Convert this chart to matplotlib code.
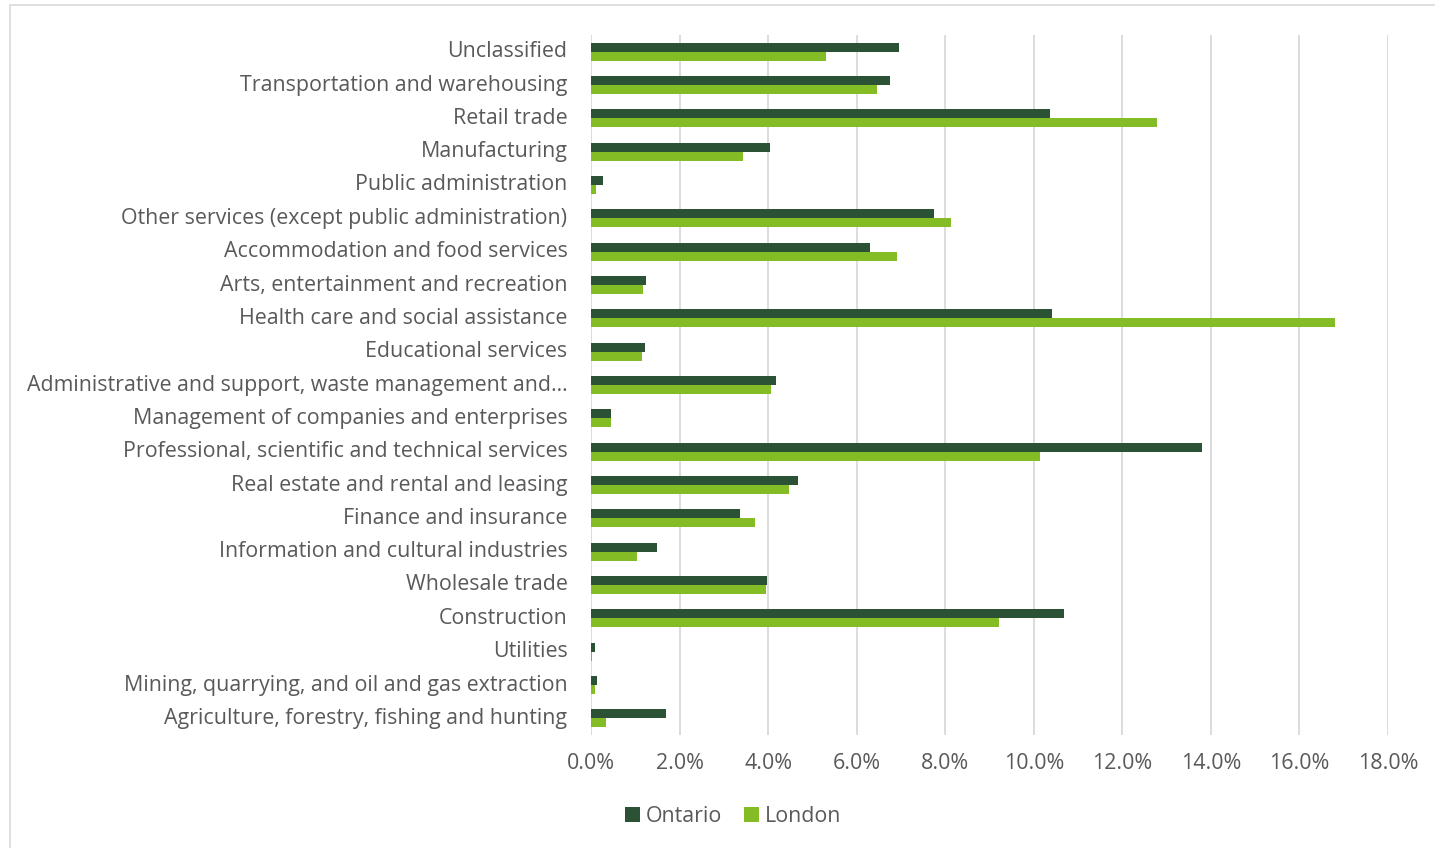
import numpy as np
import matplotlib.pyplot as plt
from matplotlib.ticker import FuncFormatter

# industries listed bottom to top as they appear on the y axis
industries = [
    "Agriculture, forestry, fishing and hunting",
    "Mining, quarrying, and oil and gas extraction",
    "Utilities",
    "Construction",
    "Wholesale trade",
    "Information and cultural industries",
    "Finance and insurance",
    "Real estate and rental and leasing",
    "Professional, scientific and technical services",
    "Management of companies and enterprises",
    "Administrative and support, waste management and\u2026",
    "Educational services",
    "Health care and social assistance",
    "Arts, entertainment and recreation",
    "Accommodation and food services",
    "Other services (except public administration)",
    "Public administration",
    "Manufacturing",
    "Retail trade",
    "Transportation and warehousing",
    "Unclassified",
]

# share of businesses, in percent
ontario = [1.69, 0.13, 0.08, 10.69, 3.98, 1.50, 3.36, 4.67, 13.79, 0.45, 4.18,
           1.21, 10.41, 1.25, 6.29, 7.74, 0.28, 4.04, 10.36, 6.76, 6.96]
london = [0.34, 0.08, 0.02, 9.22, 3.96, 1.05, 3.71, 4.47, 10.15, 0.45, 4.07,
          1.15, 16.81, 1.17, 6.92, 8.14, 0.11, 3.44, 12.79, 6.47, 5.31]

dark_green = "#2B5234"
light_green = "#84BC26"
text_grey = "#595959"

plt.rcParams['font.family'] = ['Open Sans', 'DejaVu Sans']

fig = plt.figure(figsize=(14.35, 8.48), dpi=100)
ax = fig.add_axes([591 / 1435, 1 - 735 / 848, (1388 - 591) / 1435, 700 / 848])

y = np.arange(len(industries))
h = 0.27
ax.barh(y + h / 2, ontario, height=h, color=dark_green, label="Ontario", zorder=3)
ax.barh(y - h / 2, london, height=h, color=light_green, label="London", zorder=3)

ax.set_xlim(0, 18)
ax.set_ylim(-0.5, len(industries) - 0.5)
ax.set_xticks(np.arange(0, 18.1, 2))
ax.xaxis.set_major_formatter(FuncFormatter(lambda v, _: f"{v:.1f}%"))
ax.set_yticks(y)
ax.set_yticklabels(industries, va='center')
for lbl in ax.get_yticklabels():
    lbl.set_y(lbl.get_position()[1])

ax.grid(axis='x', color="#D9D9D9", linewidth=1.3, zorder=0)
for s in ax.spines.values():
    s.set_visible(False)
ax.tick_params(axis='y', length=0, pad=17, labelsize=15.4, labelcolor=text_grey)
ax.tick_params(axis='x', length=0, pad=13, labelsize=15.4, labelcolor=text_grey)

leg = fig.legend(loc='center', bbox_to_anchor=(733 / 1435, 1 - 816 / 848), ncol=2,
                 frameon=False, fontsize=15.4, handlelength=0.7, handleheight=0.7,
                 handletextpad=0.3, columnspacing=1.0)
for t in leg.get_texts():
    t.set_color(text_grey)

# outer chart border
fig.patches.append(plt.Rectangle((10 / 1435, -0.01), 1.0, 1 - 5 / 848 + 0.01,
                                 transform=fig.transFigure, fill=False,
                                 edgecolor="#D9D9D9", linewidth=1.2))

fig.savefig("out.png", dpi=100)
